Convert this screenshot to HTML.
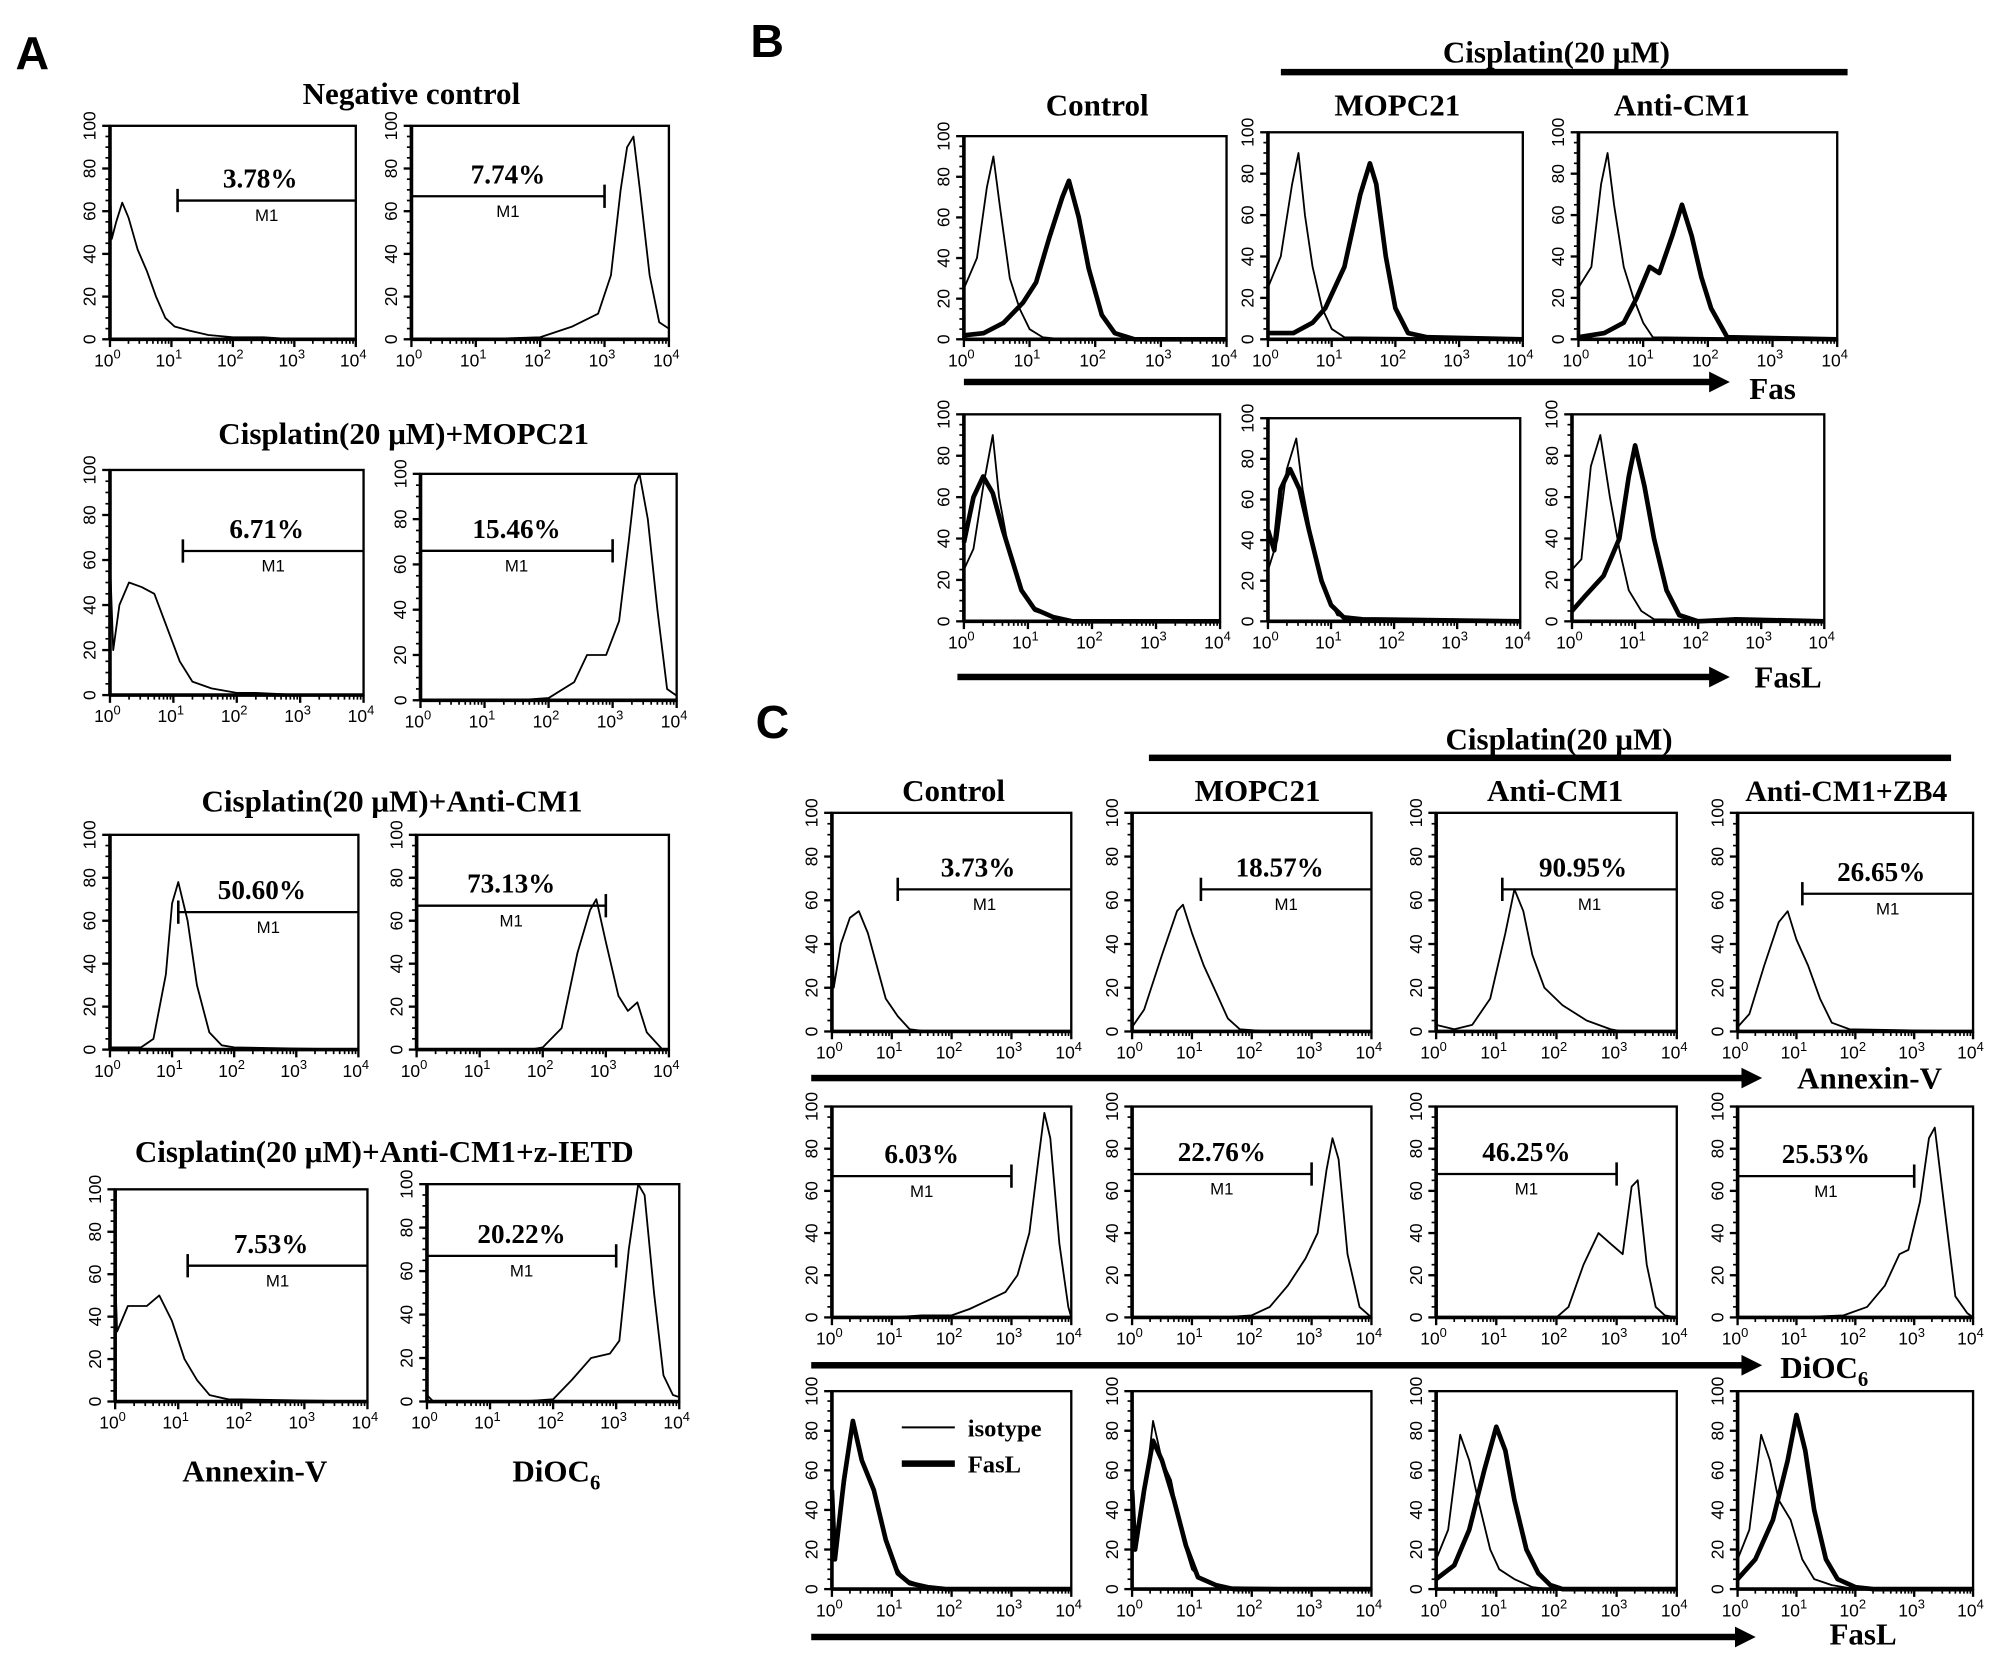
<!DOCTYPE html>
<html><head><meta charset="utf-8"><style>
html,body{margin:0;padding:0;background:#fff;}
svg{display:block;}
.t{font-family:"Liberation Serif",serif;font-weight:bold;}
.s{font-family:"Liberation Sans",sans-serif;}
</style></head><body>
<svg id="fig" width="2008" height="1658" viewBox="0 0 1552 1281" xmlns="http://www.w3.org/2000/svg">
<g id="static">
<text class="s" x="12" y="53" font-size="36" font-weight="bold">A</text>
<text class="s" x="580" y="44" font-size="36" font-weight="bold">B</text>
<text class="s" x="584" y="570" font-size="36" font-weight="bold">C</text>
<text class="t" x="318" y="80" font-size="24" text-anchor="middle">Negative control</text>
<text class="t" x="312" y="343" font-size="24" text-anchor="middle">Cisplatin(20 μM)+MOPC21</text>
<text class="t" x="303" y="627" font-size="24" text-anchor="middle">Cisplatin(20 μM)+Anti-CM1</text>
<text class="t" x="297" y="898" font-size="24" text-anchor="middle">Cisplatin(20 μM)+Anti-CM1+z-IETD</text>
<text class="t" x="197" y="1145" font-size="24" text-anchor="middle">Annexin-V</text>
<text class="t" x="430" y="1145" font-size="24" text-anchor="middle">DiOC<tspan font-size="16" dy="6">6</tspan></text>
<text class="t" x="1203" y="48" font-size="24" text-anchor="middle">Cisplatin(20 μM)</text>
<rect x="990" y="53" width="438" height="5" fill="#000"/>
<text class="t" x="848" y="89" font-size="24" text-anchor="middle">Control</text>
<text class="t" x="1080" y="89" font-size="24" text-anchor="middle">MOPC21</text>
<text class="t" x="1300" y="89" font-size="24" text-anchor="middle">Anti-CM1</text>
<text class="t" x="1370" y="308" font-size="24" text-anchor="middle">Fas</text>
<text class="t" x="1382" y="531" font-size="24" text-anchor="middle">FasL</text>
<text class="t" x="1205" y="579" font-size="24" text-anchor="middle">Cisplatin(20 μM)</text>
<rect x="888" y="583" width="620" height="5" fill="#000"/>
<text class="t" x="737" y="619" font-size="24" text-anchor="middle">Control</text>
<text class="t" x="972" y="619" font-size="24" text-anchor="middle">MOPC21</text>
<text class="t" x="1202" y="619" font-size="24" text-anchor="middle">Anti-CM1</text>
<text class="t" x="1427" y="619" font-size="23" text-anchor="middle">Anti-CM1+ZB4</text>
<text class="t" x="1445" y="841" font-size="24" text-anchor="middle">Annexin-V</text>
<text class="t" x="1410" y="1065" font-size="24" text-anchor="middle">DiOC<tspan font-size="16" dy="6">6</tspan></text>
<text class="t" x="1440" y="1271" font-size="24" text-anchor="middle">FasL</text>
<line x1="697" y1="1103" x2="738" y2="1103" stroke="#000" stroke-width="1.5"/>
<text class="t" x="748" y="1110" font-size="19">isotype</text>
<line x1="697" y1="1131" x2="738" y2="1131" stroke="#000" stroke-width="5"/>
<text class="t" x="748" y="1138" font-size="19">FasL</text>
</g>
</svg>
<script>
// ---- data: [log10 intensity, % of max] ----
const a1=[[0,72],[0.03,47],[0.1,55],[0.2,64],[0.3,57],[0.45,42],[0.6,32],[0.75,20],[0.9,10],[1.05,6],[1.3,4],[1.6,2],[2,1],[2.5,1],[3,0],[4,0]];
const a2=[[0,0],[1,0],[2,1],[2.5,6],[2.9,12],[3.1,30],[3.25,70],[3.35,90],[3.45,95],[3.55,70],[3.7,30],[3.85,8],[4,5]];
const a3=[[0,60],[0.05,20],[0.15,40],[0.3,50],[0.5,48],[0.7,45],[0.9,30],[1.1,15],[1.3,6],[1.6,3],[2,1],[2.3,1],[3,0],[4,0]];
const a4=[[0,0],[1.5,0],[2,1],[2.4,8],[2.6,20],[2.9,20],[3.1,35],[3.25,70],[3.35,95],[3.42,100],[3.55,80],[3.7,40],[3.85,5],[4,2]];
const a5=[[0,1],[0.5,1],[0.7,5],[0.9,35],[1,68],[1.1,78],[1.25,60],[1.4,30],[1.6,8],[1.8,2],[2,1],[4,0]];
const a6=[[0,0],[1.8,0],[2,1],[2.3,10],[2.55,45],[2.75,65],[2.85,70],[3,50],[3.2,25],[3.35,18],[3.5,22],[3.65,8],[3.9,0],[4,0]];
const a7=[[0,60],[0.03,33],[0.2,45],[0.5,45],[0.7,50],[0.9,38],[1.1,20],[1.3,10],[1.5,3],[1.8,1],[2,1],[4,0]];
const a8=[[0,3],[0.1,0],[1.5,0],[2,1],[2.3,10],[2.6,20],[2.9,22],[3.05,28],[3.2,70],[3.35,100],[3.45,95],[3.6,50],[3.75,12],[3.9,3],[4,2]];
const b1i=[[0,25],[0.2,40],[0.35,75],[0.45,90],[0.55,65],[0.7,30],[0.85,15],[1,5],[1.2,1],[1.5,0],[4,0]];
const b1f=[[0,2],[0.3,3],[0.6,8],[0.9,18],[1.1,28],[1.3,50],[1.5,70],[1.6,78],[1.75,60],[1.9,35],[2.1,12],[2.3,3],[2.6,0],[4,0]];
const b2i=[[0,25],[0.2,40],[0.38,75],[0.48,90],[0.58,60],[0.7,35],[0.85,15],[1,5],[1.2,1],[4,0]];
const b2f=[[0,3],[0.4,3],[0.7,8],[0.9,15],[1.2,35],[1.45,70],[1.6,85],[1.7,75],[1.85,40],[2,15],[2.2,3],[2.5,1],[4,0]];
const b3i=[[0,25],[0.2,35],[0.35,75],[0.45,90],[0.55,65],[0.7,35],[0.85,20],[1,8],[1.15,1],[4,0]];
const b3f=[[0,1],[0.4,3],[0.7,8],[0.9,20],[1.1,35],[1.25,32],[1.45,50],[1.6,65],[1.75,50],[1.9,30],[2.05,15],[2.3,1],[4,0]];
const b4i=[[0,25],[0.15,35],[0.3,65],[0.45,90],[0.55,60],[0.7,35],[0.9,15],[1.1,5],[1.4,2],[1.6,0],[4,0]];
const b4f=[[0,38],[0.15,60],[0.3,70],[0.45,62],[0.6,45],[0.75,30],[0.9,15],[1.1,6],[1.4,2],[1.7,0],[4,0]];
const b5i=[[0,25],[0.15,40],[0.3,75],[0.45,90],[0.55,65],[0.7,40],[0.9,15],[1.1,3],[1.4,1],[4,0]];
const b5f=[[0,45],[0.1,35],[0.2,65],[0.35,75],[0.5,65],[0.65,45],[0.85,20],[1,8],[1.2,2],[1.5,1],[4,0]];
const b6i=[[0,25],[0.15,30],[0.3,75],[0.45,90],[0.6,60],[0.75,35],[0.9,15],[1.1,5],[1.3,1],[4,0]];
const b6f=[[0,5],[0.2,12],[0.5,22],[0.75,40],[0.9,70],[1,85],[1.15,65],[1.3,40],[1.5,15],[1.7,3],[2,0],[2.6,1],[4,0]];
const c1=[[0,60],[0.03,20],[0.15,40],[0.3,52],[0.45,55],[0.6,45],[0.75,30],[0.9,15],[1.1,7],[1.3,1],[1.6,0],[4,0]];
const c2=[[0,2],[0.2,10],[0.5,35],[0.75,55],[0.85,58],[1,45],[1.2,30],[1.4,18],[1.6,6],[1.8,1],[2.3,0],[4,0]];
const c3=[[0,3],[0.3,1],[0.6,3],[0.9,15],[1.15,45],[1.3,65],[1.45,55],[1.6,35],[1.8,20],[2.1,12],[2.5,5],[2.9,1],[3.1,0],[4,0]];
const c4=[[0,2],[0.2,8],[0.45,30],[0.7,50],[0.85,55],[1,42],[1.2,30],[1.4,15],[1.6,4],[1.9,1],[4,0]];
const c5=[[0,0],[1,0],[1.5,1],[2,1],[2.3,4],[2.6,8],[2.9,12],[3.1,20],[3.3,40],[3.45,75],[3.55,97],[3.65,85],[3.8,35],[3.95,5],[4,0]];
const c6=[[0,0],[1.5,0],[2,1],[2.3,5],[2.6,15],[2.9,28],[3.1,40],[3.25,70],[3.35,85],[3.45,75],[3.6,30],[3.8,5],[4,0]];
const c7=[[0,0],[2,0],[2.2,5],[2.45,25],[2.7,40],[2.9,35],[3.1,30],[3.25,62],[3.35,65],[3.5,25],[3.65,5],[3.8,1],[4,0]];
const c8=[[0,0],[1,0],[1.8,1],[2.2,5],[2.5,15],[2.75,30],[2.9,32],[3.1,55],[3.25,85],[3.35,90],[3.5,55],[3.7,10],[3.9,2],[4,0]];
const c9i=[[0,55],[0.05,20],[0.2,50],[0.35,82],[0.5,65],[0.65,55],[0.85,30],[1,15],[1.2,5],[1.5,2],[1.8,0],[4,0]];
const c9f=[[0,50],[0.05,15],[0.2,55],[0.35,85],[0.5,65],[0.7,50],[0.9,25],[1.1,8],[1.3,3],[1.6,1],[1.9,0],[4,0]];
const c10i=[[0,55],[0.05,25],[0.2,45],[0.35,85],[0.5,65],[0.65,55],[0.85,25],[1,10],[1.2,4],[1.6,1],[4,0]];
const c10f=[[0,50],[0.05,20],[0.2,50],[0.35,75],[0.5,65],[0.7,45],[0.9,22],[1.1,6],[1.4,2],[1.7,0],[4,0]];
const c11i=[[0,15],[0.2,30],[0.4,78],[0.55,65],[0.7,45],[0.9,20],[1.05,10],[1.3,5],[1.6,1],[1.9,0],[4,0]];
const c11f=[[0,5],[0.3,12],[0.55,30],[0.8,60],[1,82],[1.15,70],[1.3,45],[1.5,20],[1.7,8],[1.9,2],[2.1,0],[4,0]];
const c12i=[[0,15],[0.2,30],[0.4,78],[0.55,65],[0.7,45],[0.9,35],[1.1,15],[1.3,5],[1.6,2],[2,0],[4,0]];
const c12f=[[0,5],[0.3,15],[0.6,35],[0.85,65],[1,88],[1.15,70],[1.3,40],[1.5,15],[1.7,5],[2,1],[2.3,0],[4,0]];
const yTicks=[0,20,40,60,80,100];
const xTicks=[0,1,2,3,4];
// gates: [start log, end log, y%, label]
const gA1=[1.1,4,65,"3.78%"], gA2=[0,3,67,"7.74%"], gA3=[1.15,4,64,"6.71%"], gA4=[0,3,66,"15.46%"];
const gA5=[1.1,4,64,"50.60%"], gA6=[0,3,67,"73.13%"], gA7=[1.15,4,64,"7.53%"], gA8=[0,3,67,"20.22%"];
const gC1=[1.1,4,65,"3.73%"], gC2=[1.15,4,65,"18.57%"], gC3=[1.1,4,65,"90.95%"], gC4=[1.1,4,63,"26.65%"];
const gC5=[0,3,67,"6.03%"], gC6=[0,3,68,"22.76%"], gC7=[0,3,68,"46.25%"], gC8=[0,3,67,"25.53%"];

const NS="http://www.w3.org/2000/svg";
const svg=document.getElementById('fig');
function mk(tag,attrs,parent){const e=document.createElementNS(NS,tag);for(const k in attrs)e.setAttribute(k,attrs[k]);(parent||svg).appendChild(e);return e;}
function plot(name,x0,y0,x1,y1,curves,gate){
  const g=mk('g',{});
  
  
  const sx=v=>x0+(x1-x0)*v/4, sy=v=>y1-(y1-y0)*v/100;
  const box=mk('rect',{x:x0,y:y0,width:x1-x0,height:y1-y0,fill:'none',stroke:'#000','stroke-width':1.8},g);
  
  
  mk('line',{x1:x0,y1:y0,x2:x0,y2:y1,stroke:'#000','stroke-width':2.8},g);
  mk('line',{x1:x0,y1:y1,x2:x1,y2:y1,stroke:'#000','stroke-width':2.8},g);
  yTicks.forEach(v=>{
    mk('line',{x1:x0-6,y1:sy(v),x2:x0,y2:sy(v),stroke:'#000','stroke-width':1.8},g);
    const t=mk('text',{x:x0-11,y:sy(v),'font-size':13.5,'text-anchor':'middle',transform:`rotate(-90 ${x0-11} ${sy(v)})`,class:'s'},g);
    t.textContent=v;
    
    
  });
  for(let v=0;v<100;v+=5){mk('line',{x1:x0-3.5,y1:sy(v),x2:x0,y2:sy(v),stroke:'#000','stroke-width':1.3},g);}
  xTicks.forEach(d=>{
    mk('line',{x1:sx(d),y1:y1,x2:sx(d),y2:y1+6,stroke:'#000','stroke-width':1.8},g);
    if(d<4){for(let m=2;m<10;m++){const xx=sx(d+Math.log10(m));mk('line',{x1:xx,y1:y1,x2:xx,y2:y1+3.5,stroke:'#000','stroke-width':1.3},g);}}
    const t=mk('text',{x:sx(d)-2,y:y1+21,'font-size':13.5,'text-anchor':'middle',class:'s'},g);
    t.innerHTML='10<tspan font-size="10" dy="-6">'+d+'</tspan>';
    
    
  });
  curves.forEach(([pts,w])=>{
    const p=mk('polyline',{points:pts.map(q=>sx(q[0]).toFixed(1)+','+sy(q[1]).toFixed(1)).join(' '),fill:'none',stroke:'#000','stroke-width':w,'stroke-linejoin':'round'},g);
    
    
  });
  if(gate){
    const [a,b,yv,lab]=gate, gy=sy(yv), ga=sx(a), gb=sx(b);
    const gl=mk('line',{x1:ga,y1:gy,x2:gb,y2:gy,stroke:'#000','stroke-width':1.8},g);
    
    
    if(a>0)mk('line',{x1:ga,y1:gy-9,x2:ga,y2:gy+9,stroke:'#000','stroke-width':2},g);
    if(b<4)mk('line',{x1:gb,y1:gy-9,x2:gb,y2:gy+9,stroke:'#000','stroke-width':2},g);
    const cx=(ga+gb)/2;
    const t=mk('text',{x:cx+(a>0?-5:0),y:gy-10,'font-size':21,'text-anchor':'middle',class:'t'},g);
    t.textContent=lab;
    
    
    const m=mk('text',{x:cx,y:gy+16,'font-size':13,'text-anchor':'middle',class:'s'},g);
    m.textContent='M1';
    
    
  }
}
function arrow(name,xa,xb,y){
  const g=mk('g',{});
  
  
  mk('rect',{x:xa,y:y-2.5,width:xb-xa-14,height:5,fill:'#000'},g);
  mk('polygon',{points:`${xb-16},${y-8} ${xb},${y} ${xb-16},${y+8}`,fill:'#000'},g);
}
const T=1.4,K=3.6;
plot('a-neg-annexin',85,97,275,262,[[a1,T]],gA1);
plot('a-neg-dioc6',318,97,517,262,[[a2,T]],gA2);
plot('a-mopc-annexin',85,363,281,537,[[a3,T]],gA3);
plot('a-mopc-dioc6',325,366,523,541,[[a4,T]],gA4);
plot('a-cm1-annexin',85,645,277,811,[[a5,T]],gA5);
plot('a-cm1-dioc6',322,645,517,811,[[a6,T]],gA6);
plot('a-ietd-annexin',89,919,284,1083,[[a7,T]],gA7);
plot('a-ietd-dioc6',330,915,525,1083,[[a8,T]],gA8);
plot('b-control-fas',745,105,948,262,[[b1i,T],[b1f,K]]);
plot('b-mopc-fas',980,102,1177,262,[[b2i,T],[b2f,K]]);
plot('b-cm1-fas',1220,102,1420,262,[[b3i,T],[b3f,K]]);
plot('b-control-fasl',745,320,943,480,[[b4i,T],[b4f,K]]);
plot('b-mopc-fasl',980,323,1175,480,[[b5i,T],[b5f,K]]);
plot('b-cm1-fasl',1215,320,1410,480,[[b6i,T],[b6f,K]]);
arrow('b-fas-arrow',745,1337,295);
arrow('b-fasl-arrow',740,1337,523);
const cx=[[643,828],[875,1060],[1110,1296],[1343,1525]];
const c1s=[[c1,gC1],[c2,gC2],[c3,gC3],[c4,gC4]];
const c2s=[[c5,gC5],[c6,gC6],[c7,gC7],[c8,gC8]];
const c3s=[[c9i,c9f],[c10i,c10f],[c11i,c11f],[c12i,c12f]];
const cn=['control','mopc','cm1','zb4'];
cx.forEach((p,i)=>{
  plot('c-'+cn[i]+'-annexin',p[0],628,p[1],797,[[c1s[i][0],T]],c1s[i][1]);
  plot('c-'+cn[i]+'-dioc6',p[0],855,p[1],1018,[[c2s[i][0],T]],c2s[i][1]);
  plot('c-'+cn[i]+'-fasl',p[0],1075,p[1],1228,[[c3s[i][0],T],[c3s[i][1],K]]);
});
arrow('c-annexin-arrow',627,1362,833);
arrow('c-dioc6-arrow',627,1362,1055);
arrow('c-fasl-arrow',627,1357,1265);
</script>
</body></html>
